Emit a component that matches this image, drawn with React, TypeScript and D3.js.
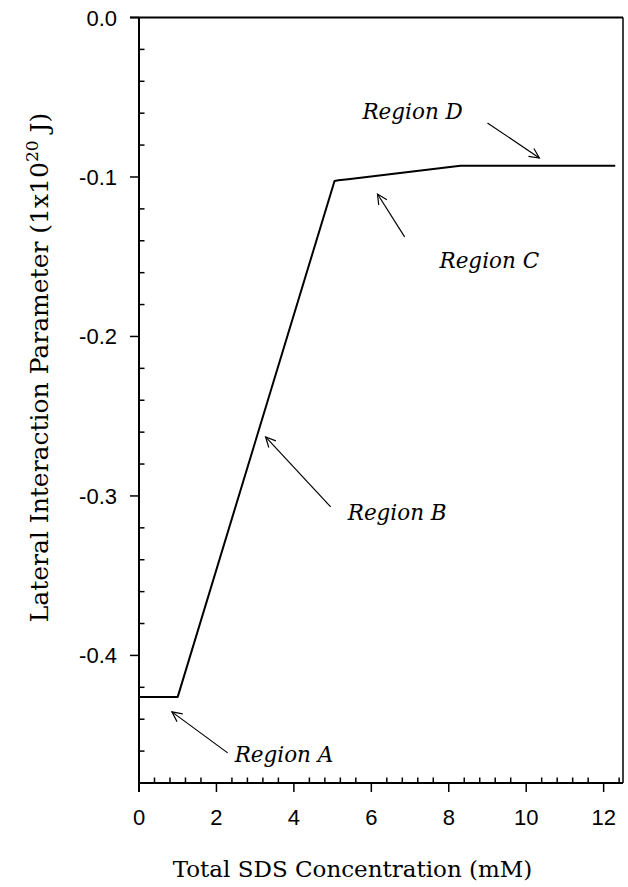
import React from "react";
import * as d3 from "d3";

// SDS concentration (mM) and lateral interaction parameter (1e-20 J)
const concentration = [0, 1.0, 5.05, 5.15, 5.4, 8.3, 12.3];
const lateralParam = [-0.426, -0.426, -0.1025, -0.102, -0.1014, -0.093, -0.093];

const xMajorTicks = [0, 2, 4, 6, 8, 10, 12];
const yMajorTicks = [0.0, -0.1, -0.2, -0.3, -0.4];
const yTickLabels = ["0.0", "-0.1", "-0.2", "-0.3", "-0.4"];

// Region annotations in data units: label anchor, arrow tail, arrow tip
const regionLabels = ["Region A", "Region B", "Region C", "Region D"];
const regionText = [
  [2.47, -0.4668],
  [5.39, -0.315],
  [7.76, -0.157],
  [5.77, -0.0636],
];
const regionArrowFrom = [
  [2.29, -0.4611],
  [4.95, -0.3069],
  [6.86, -0.1376],
  [9.0, -0.0661],
];
const regionArrowTo = [
  [0.85, -0.4354],
  [3.27, -0.263],
  [6.16, -0.1107],
  [10.34, -0.0881],
];

const W = 628;
const H = 887;
const left = 139;
const top = 17.5;
const right = 623;
const bottom = 783;

const serif = "'DejaVu Serif', serif";
const sans = "'Liberation Sans', Arial, sans-serif";

export default function App() {
  const x = d3.scaleLinear().domain([0, 12.5]).range([left, right]);
  const y = d3.scaleLinear().domain([-0.48, 0]).range([bottom, top]);

  const xMinor = d3.range(0, 12.5 + 1e-9, 0.4).filter(
    (v) => Math.abs(v / 2 - Math.round(v / 2)) > 1e-6
  );
  const yMinor = d3.range(0, 24).map((i) => -i * 0.02).filter(
    (v, i) => i % 5 !== 0 && v > -0.48 + 1e-9
  );

  const line = d3
    .line<number>()
    .x((_, i) => x(concentration[i]))
    .y((d) => y(d));

  const arrowHead = (x1: number, y1: number, x2: number, y2: number) => {
    const ang = Math.atan2(y2 - y1, x2 - x1);
    const len = 11;
    const spread = (26 * Math.PI) / 180;
    const a1 = ang + Math.PI - spread;
    const a2 = ang + Math.PI + spread;
    return `M${x2 + len * Math.cos(a1)},${y2 + len * Math.sin(a1)}L${x2},${y2}L${
      x2 + len * Math.cos(a2)
    },${y2 + len * Math.sin(a2)}`;
  };

  return (
    <svg width={W} height={H} style={{ position: "absolute", left: 0, top: 0 }}>
      <rect width={W} height={H} fill="#fff" />

      {/* frame */}
      <line x1={left - 9} x2={right} y1={top} y2={top} stroke="#000" strokeWidth={2} />
      <line x1={right} x2={right} y1={top} y2={bottom} stroke="#000" strokeWidth={1.5} />
      <line x1={left} x2={left} y1={top} y2={bottom + 9} stroke="#000" strokeWidth={2} />
      <line x1={left} x2={right} y1={bottom} y2={bottom} stroke="#000" strokeWidth={2} />

      {/* x ticks */}
      {xMajorTicks.map((v) => (
        <g key={"xt" + v}>
          <line x1={x(v)} x2={x(v)} y1={bottom} y2={bottom + 9} stroke="#000" strokeWidth={1.5} />
          <text
            x={x(v)}
            y={bottom + 42}
            textAnchor="middle"
            fontFamily={sans}
            fontSize={22}
          >
            {v}
          </text>
        </g>
      ))}
      {xMinor.map((v) => (
        <line key={"xm" + v} x1={x(v)} x2={x(v)} y1={bottom} y2={bottom - 5.5} stroke="#000" strokeWidth={1.5} />
      ))}

      {/* y ticks */}
      {yMajorTicks.map((v, i) => (
        <g key={"yt" + v}>
          <line x1={left - 9} x2={left} y1={y(v)} y2={y(v)} stroke="#000" strokeWidth={1.5} />
          <text
            x={left - 22}
            y={y(v) + 8}
            textAnchor="end"
            fontFamily={sans}
            fontSize={22}
          >
            {yTickLabels[i]}
          </text>
        </g>
      ))}
      {yMinor.map((v) => (
        <line key={"ym" + v} x1={left} x2={left + 5.5} y1={y(v)} y2={y(v)} stroke="#000" strokeWidth={1.5} />
      ))}

      {/* data curve */}
      <path d={line(lateralParam) ?? ""} fill="none" stroke="#000" strokeWidth={2} strokeLinejoin="round" />

      {/* region annotations */}
      {regionLabels.map((label, i) => {
        const x1 = x(regionArrowFrom[i][0]);
        const y1 = y(regionArrowFrom[i][1]);
        const x2 = x(regionArrowTo[i][0]);
        const y2 = y(regionArrowTo[i][1]);
        return (
          <g key={label}>
            <text
              x={x(regionText[i][0])}
              y={y(regionText[i][1])}
              fontFamily={serif}
              fontStyle="italic"
              fontSize={21.5}
            >
              {label}
            </text>
            <line x1={x1} y1={y1} x2={x2} y2={y2} stroke="#000" strokeWidth={1.2} />
            <path d={arrowHead(x1, y1, x2, y2)} fill="none" stroke="#000" strokeWidth={1.2} />
          </g>
        );
      })}

      {/* axis titles */}
      <text
        x={352.5}
        y={877}
        textAnchor="middle"
        fontFamily={serif}
        fontSize={23}
      >
        Total SDS Concentration (mM)
      </text>
      <text
        transform={`translate(48, ${(115 + 620) / 2}) rotate(-90)`}
        textAnchor="middle"
        fontFamily={serif}
        fontSize={25}
      >
        Lateral Interaction Parameter (1x10
        <tspan dy={-10} fontSize={17}>20</tspan>
        <tspan dy={10}> J)</tspan>
      </text>
    </svg>
  );
}
